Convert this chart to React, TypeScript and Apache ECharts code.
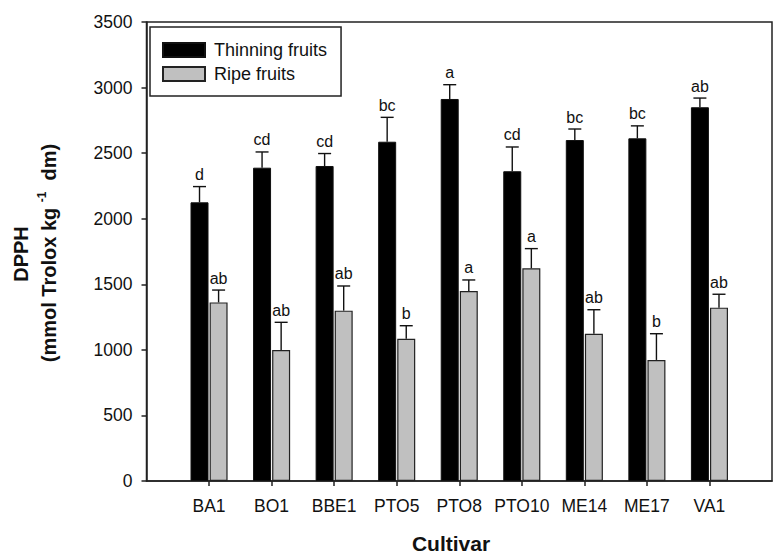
import React, { useEffect, useRef } from "react";
import * as echarts from "echarts";

const categories = ["BA1", "BO1", "BBE1", "PTO5", "PTO8", "PTO10", "ME14", "ME17", "VA1"];
const thinning = [2125, 2389, 2402, 2587, 2913, 2362, 2600, 2613, 2850];
const thinningErr = [120, 120, 95, 186, 109, 185, 84, 95, 70];
const thinningLetters = ["d", "cd", "cd", "bc", "a", "cd", "bc", "bc", "ab"];
const ripe = [1362, 999, 1299, 1085, 1449, 1622, 1123, 923, 1322];
const ripeErr = [94, 211, 188, 99, 84, 150, 183, 200, 102];
const ripeLetters = ["ab", "ab", "ab", "b", "a", "a", "ab", "b", "ab"];
const yMin = 0;
const yMax = 3500;
const yInterval = 500;

const FONT = "'Liberation Sans', Arial, sans-serif";
const BAR_W = 18;
const GAP_RATIO = 0.06;
const HALF = (BAR_W + BAR_W * GAP_RATIO) / 2;

function errSeries(name: string, vals: number[], errs: number[], letters: string[], offset: number) {
  return {
    type: "custom",
    name: name + " err",
    z: 5,
    silent: true,
    data: vals.map((v, i) => [i + 1, v, errs[i], letters[i]]),
    encode: { x: 0, y: 1 },
    renderItem: (params: any, api: any) => {
      const idx = params.dataIndex;
      const base = api.coord([api.value(0), api.value(1)]);
      const top = api.coord([api.value(0), api.value(1) + api.value(2)]);
      const cx = base[0] + offset;
      return {
        type: "group",
        children: [
          { type: "line", shape: { x1: cx, y1: base[1], x2: cx, y2: top[1] }, style: { stroke: "#111", lineWidth: 1.4 } },
          { type: "line", shape: { x1: cx - 6.5, y1: top[1], x2: cx + 6.5, y2: top[1] }, style: { stroke: "#111", lineWidth: 1.4 } },
          {
            type: "text",
            x: cx,
            y: top[1] - 4,
            style: { text: letters[idx], fontSize: 16, fontFamily: FONT, fill: "#111", align: "center", verticalAlign: "bottom" },
          },
        ],
      };
    },
  };
}

export default function App() {
  const ref = useRef<HTMLDivElement>(null);
  useEffect(() => {
    if (!ref.current) return;
    const chart = echarts.init(ref.current, undefined, { renderer: "svg" });
    const axisCats = ["", ...categories, ""];
    chart.setOption({
      animation: false,
      backgroundColor: "#fff",
      grid: { left: 146.5, top: 22, bottom: 74, right: -10, show: true, borderColor: "#222", borderWidth: 1.5 },
      legend: {
        orient: "vertical",
        left: 150,
        top: 27,
        padding: [14, 14, 13, 12],
        itemGap: 6,
        itemWidth: 42,
        itemHeight: 14,
        icon: "rect",
        borderColor: "#222",
        borderWidth: 1.5,
        backgroundColor: "#fff",
        data: ["Thinning fruits", "Ripe fruits"],
        textStyle: { fontSize: 18, fontFamily: FONT, color: "#111", padding: [0, 0, 0, 4] },
      },
      xAxis: {
        type: "category",
        boundaryGap: false,
        data: axisCats,
        axisLine: { lineStyle: { color: "#222", width: 1.5 } },
        axisTick: {
          length: 5,
          lineStyle: { color: "#222", width: 1.5 },
          interval: (i: number) => i > 0 && i < axisCats.length - 1,
        },
        axisLabel: { interval: 0, margin: 16, fontSize: 17.5, fontFamily: FONT, color: "#111" },
        splitLine: { show: false },
      },
      yAxis: {
        type: "value",
        min: yMin,
        max: yMax,
        interval: yInterval,
        axisLine: { show: true, lineStyle: { color: "#222", width: 1.5 } },
        axisTick: { show: true, length: 5, lineStyle: { color: "#222", width: 1.5 } },
        axisLabel: { margin: 14, fontSize: 17.5, fontFamily: FONT, color: "#111", formatter: (v: number) => String(v) },
        splitLine: { show: false },
      },
      graphic: [
        {
          type: "text",
          x: 451,
          y: 543,
          style: { text: "Cultivar", fontSize: 21, fontWeight: "bold", fontFamily: FONT, fill: "#111", align: "center", verticalAlign: "middle" },
        },
        {
          type: "text",
          x: 21,
          y: 254,
          rotation: Math.PI / 2,
          style: { text: "DPPH", fontSize: 20, fontWeight: "bold", fontFamily: FONT, fill: "#111", align: "center", verticalAlign: "middle" },
        },
        {
          type: "text",
          x: 49,
          y: 253,
          rotation: Math.PI / 2,
          style: {
            text: "{m|(mmol Trolox kg }{s|-1}{m|  dm)}",
            align: "center",
            verticalAlign: "middle",
            rich: {
              m: { fontSize: 20, fontWeight: "bold", fontFamily: FONT, fill: "#111", lineHeight: 26 },
              s: { fontSize: 12, fontWeight: "bold", fontFamily: FONT, fill: "#111", verticalAlign: "top", lineHeight: 12 },
            },
          },
        },
      ],
      series: [
        {
          type: "bar",
          name: "Thinning fruits",
          data: [null, ...thinning, null],
          barWidth: BAR_W,
          barGap: GAP_RATIO * 100 + "%",
          itemStyle: { color: "#000", borderColor: "#111", borderWidth: 1 },
        },
        {
          type: "bar",
          name: "Ripe fruits",
          data: [null, ...ripe, null],
          barWidth: BAR_W,
          barGap: GAP_RATIO * 100 + "%",
          itemStyle: { color: "#c0c0c0", borderColor: "#222", borderWidth: 1.2 },
        },
        errSeries("Thinning fruits", thinning, thinningErr, thinningLetters, -HALF),
        errSeries("Ripe fruits", ripe, ripeErr, ripeLetters, HALF),
      ],
    });
    return () => chart.dispose();
  }, []);
  return <div ref={ref} style={{ position: "absolute", left: 0, top: 0, width: 775, height: 555 }} />;
}
